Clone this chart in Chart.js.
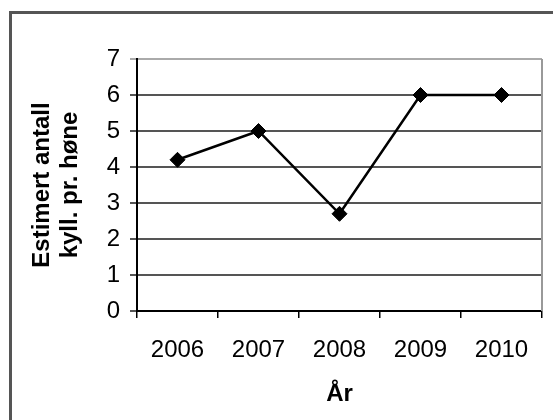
<!DOCTYPE html>
<html>
<head>
<meta charset="utf-8">
<script src="https://cdn.jsdelivr.net/npm/chart.js@4/dist/chart.umd.min.js"></script>
<style>
  html, body { margin: 0; padding: 0; background: #fff; overflow: hidden; }
  #frame { position: absolute; left: 9px; top: 11px; width: 600px; height: 500px;
           border-left: 3px solid #555; border-top: 3px solid #555; }
  #wrap { position: absolute; left: 0; top: 0; width: 553px; height: 420px; }
</style>
</head>
<body>
<div id="frame"></div>
<div id="wrap"><canvas id="c" width="553" height="420"></canvas></div>
<script>
const categories = ['2006', '2007', '2008', '2009', '2010'];
const values = [4.2, 5, 2.7, 6, 6];
const yTitleLines = ['Estimert antall', 'kyll. pr. høne'];
const xTitle = 'År';

const FONT = "'Liberation Sans', Arial, sans-serif";

const plotBorder = {
  id: 'plotBorder',
  afterDraw(chart) {
    const {ctx, chartArea: a} = chart;
    ctx.save();
    ctx.strokeStyle = '#999';
    ctx.lineWidth = 2;
    ctx.beginPath();
    ctx.moveTo(a.right, a.top);
    ctx.lineTo(a.right, a.bottom);
    ctx.stroke();
    ctx.restore();
  }
};

new Chart(document.getElementById('c'), {
  type: 'line',
  data: {
    labels: categories,
    datasets: [{
      data: values,
      borderColor: '#000',
      backgroundColor: '#000',
      borderWidth: 2.5,
      pointStyle: 'rectRot',
      pointRadius: 7.5,
      pointBorderWidth: 1,
      pointBackgroundColor: '#000',
      pointBorderColor: '#000',
      tension: 0,
      fill: false
    }]
  },
  options: {
    responsive: false,
    devicePixelRatio: 1,
    animation: false,
    layout: { padding: { left: 0, top: 59, right: 11, bottom: 0 } },
    plugins: { legend: { display: false }, tooltip: { enabled: false } },
    scales: {
      x: {
        offset: true,
        grid: { offset: true, drawOnChartArea: false, drawTicks: true, tickLength: 7, color: '#000', lineWidth: 1.5 },
        border: { color: '#000', width: 2 },
        ticks: { color: '#000', font: { family: FONT, size: 24 }, padding: 18 },
        title: { display: true, text: xTitle, color: '#000', font: { family: FONT, size: 24, weight: 'bold', lineHeight: 1.2 }, padding: { top: 0, bottom: 11 } },
        afterFit(s) { s.height = 109; }
      },
      y: {
        min: 0, max: 7,
        ticks: { stepSize: 1, color: '#000', font: { family: FONT, size: 24 }, padding: 10 },
        grid: {
          drawTicks: true, tickLength: 7,
          color: (c) => (c.tick && c.tick.value === 7) ? '#aaa' : '#555',
          lineWidth: 2
        },
        border: { color: '#000', width: 2 },
        title: { display: true, text: yTitleLines, color: '#000', font: { family: FONT, size: 24, weight: 'bold', lineHeight: 28 / 24 }, padding: { top: 28, bottom: 0 } },
        afterFit(s) { s.width = 137; }
      }
    }
  },
  plugins: [plotBorder]
});
</script>
</body>
</html>
